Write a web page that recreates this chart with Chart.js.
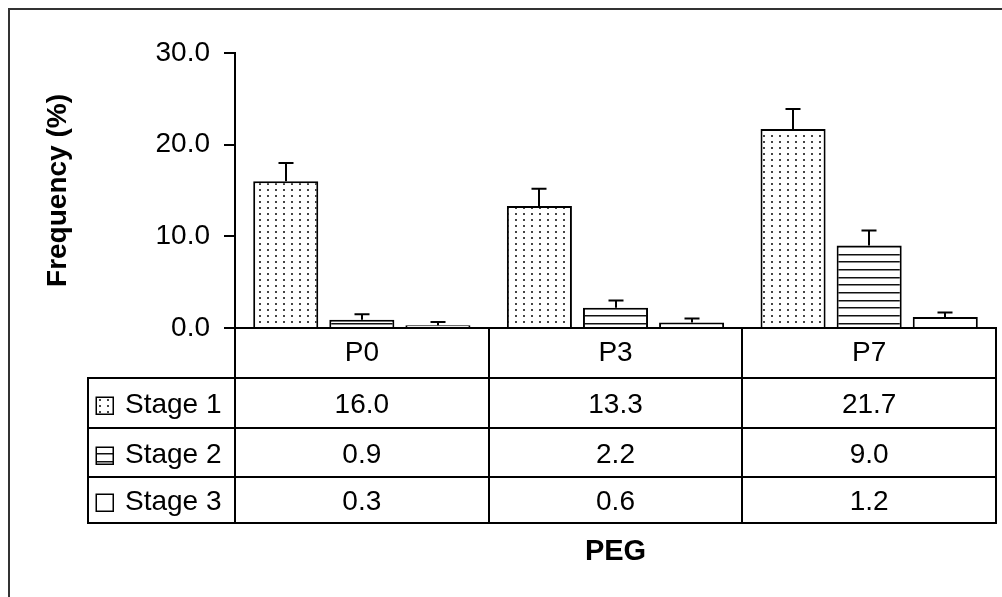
<!DOCTYPE html>
<html>
<head>
<meta charset="utf-8">
<script src="https://cdn.jsdelivr.net/npm/chart.js@4/dist/chart.umd.min.js"></script>
<style>
  html, body { margin: 0; padding: 0; background: #fff; }
  canvas { display: block; }
</style>
</head>
<body>
<canvas id="chart" width="1002" height="597"></canvas>
<script>
// Categories (PEG groups) and stage series
const categories = ['P0', 'P3', 'P7'];
const stageNames = ['Stage 1', 'Stage 2', 'Stage 3'];
const stage1 = [16.0, 13.3, 21.7];
const stage2 = [0.9, 2.2, 9.0];
const stage3 = [0.3, 0.6, 1.2];
// Upper error bar lengths
const stage1Err = [2.0, 1.9, 2.2];
const stage2Err = [0.6, 0.8, 1.65];
const stage3Err = [0.35, 0.45, 0.5];
// Value axis
const yMin = 0;
const yMax = 30;
const yStep = 10;

const FONT = "'Liberation Sans', Arial, sans-serif";

// Fill patterns
function dotPattern() {
  const c = document.createElement('canvas');
  c.width = 8; c.height = 6;
  const g = c.getContext('2d');
  g.fillStyle = '#fff';
  g.fillRect(0, 0, 8, 6);
  g.fillStyle = '#444';
  g.fillRect(3, 3, 2, 2);
  return g.createPattern(c, 'repeat');
}
function stripePattern() {
  const c = document.createElement('canvas');
  c.width = 4; c.height = 23;
  const g = c.getContext('2d');
  g.fillStyle = '#fff';
  g.fillRect(0, 0, 4, 23);
  [1, 8, 16].forEach(y => {
    g.fillStyle = '#111';
    g.fillRect(0, y, 4, 1);
    g.fillStyle = '#888';
    g.fillRect(0, y + 1, 4, 1);
  });
  return g.createPattern(c, 'repeat');
}

const fills = [dotPattern(), stripePattern(), '#ffffff'];
const seriesValues = [stage1, stage2, stage3];
const seriesErrors = [stage1Err, stage2Err, stage3Err];

// Page frame and white background
const framePlugin = {
  id: 'frame',
  beforeDraw(chart) {
    const ctx = chart.ctx;
    ctx.save();
    ctx.fillStyle = '#fff';
    ctx.fillRect(0, 0, chart.width, chart.height);
    ctx.strokeStyle = '#333';
    ctx.lineWidth = 2;
    ctx.beginPath();
    ctx.moveTo(9, chart.height);
    ctx.lineTo(9, 9);
    ctx.lineTo(chart.width, 9);
    ctx.stroke();
    ctx.restore();
  }
};

// Upper error bars on each bar
const errorBarPlugin = {
  id: 'errorBars',
  afterDatasetsDraw(chart) {
    const ctx = chart.ctx;
    const y = chart.scales.y;
    ctx.save();
    ctx.strokeStyle = '#000';
    ctx.lineWidth = 2;
    chart.data.datasets.forEach((ds, i) => {
      const meta = chart.getDatasetMeta(i);
      meta.data.forEach((bar, j) => {
        const top = y.getPixelForValue(ds.data[j] + seriesErrors[i][j]);
        const x = Math.round(bar.x);
        ctx.beginPath();
        ctx.moveTo(x, bar.y);
        ctx.lineTo(x, top);
        ctx.moveTo(x - 7.5, top);
        ctx.lineTo(x + 7.5, top);
        ctx.stroke();
      });
    });
    ctx.restore();
  }
};

// Data table under the category axis
const tablePlugin = {
  id: 'dataTable',
  afterDraw(chart) {
    const ctx = chart.ctx;
    const x = chart.scales.x;
    const area = chart.chartArea;
    const n = categories.length;
    const colW = (x.right - x.left) / n;
    const b = area.bottom;
    const rows = [b, b + 50, b + 100, b + 149, b + 195];
    const legendLeft = 88;

    ctx.save();
    ctx.strokeStyle = '#000';
    ctx.lineWidth = 2;
    ctx.beginPath();
    // vertical lines at category boundaries
    for (let i = 0; i <= n; i++) {
      const xx = Math.round(x.left + i * colW);
      ctx.moveTo(xx, rows[0]);
      ctx.lineTo(xx, rows[4]);
    }
    // legend column left edge
    ctx.moveTo(legendLeft, rows[1]);
    ctx.lineTo(legendLeft, rows[4]);
    // horizontal row lines
    for (let r = 1; r < rows.length; r++) {
      ctx.moveTo(legendLeft - 1, rows[r]);
      ctx.lineTo(Math.round(x.right) + 1, rows[r]);
    }
    ctx.stroke();

    ctx.fillStyle = '#000';
    ctx.font = '28px ' + FONT;
    ctx.textAlign = 'center';
    ctx.textBaseline = 'middle';
    categories.forEach((c, i) => {
      ctx.fillText(c, x.getPixelForValue(i), (rows[0] + rows[1]) / 2);
    });

    seriesValues.forEach((vals, s) => {
      const cy = (rows[s + 1] + rows[s + 2]) / 2 + 2.5;
      // legend key
      const kx = 96, ks = 17, ky = Math.round(cy - ks / 2);
      ctx.fillStyle = fills[s];
      ctx.fillRect(kx, ky, ks, ks);
      ctx.lineWidth = 1.5;
      ctx.strokeRect(kx + 0.25, ky + 0.25, ks, ks);
      ctx.fillStyle = '#000';
      ctx.textAlign = 'left';
      ctx.fillText(stageNames[s], 125, cy);
      ctx.textAlign = 'center';
      vals.forEach((v, i) => {
        ctx.fillText(v.toFixed(1), x.getPixelForValue(i), cy);
      });
    });
    ctx.restore();
  }
};

new Chart(document.getElementById('chart'), {
  type: 'bar',
  data: {
    labels: categories,
    datasets: seriesValues.map((vals, i) => ({
      label: stageNames[i],
      data: vals,
      backgroundColor: fills[i],
      borderColor: '#000',
      borderWidth: 2,
      categoryPercentage: 0.9,
      barPercentage: 0.855
    }))
  },
  options: {
    responsive: false,
    devicePixelRatio: 1,
    animation: false,
    layout: { padding: { left: 0, top: 53, right: 6, bottom: 0 } },
    plugins: { legend: { display: false }, tooltip: { enabled: false } },
    scales: {
      x: {
        type: 'category',
        offset: true,
        grid: { display: false },
        border: { display: true, color: '#000', width: 2 },
        ticks: { display: false },
        title: {
          display: true,
          text: 'PEG',
          color: '#000',
          font: { family: FONT, size: 29, weight: 'bold' },
          padding: { top: 0, bottom: 28 }
        },
        afterFit(scale) { scale.height = 269; }
      },
      y: {
        min: yMin,
        max: yMax,
        grid: {
          drawOnChartArea: false,
          drawTicks: true,
          tickLength: 11,
          color: '#000',
          lineWidth: 2
        },
        border: { display: true, color: '#000', width: 2 },
        ticks: {
          stepSize: yStep,
          padding: 14,
          color: '#000',
          font: { family: FONT, size: 28 },
          callback: v => Number(v).toFixed(1)
        },
        title: {
          display: true,
          text: 'Frequency (%)',
          color: '#000',
          font: { family: FONT, size: 28, weight: 'bold' },
          padding: { top: 41, bottom: 0 }
        },
        afterFit(scale) { scale.width = 235; }
      }
    }
  },
  plugins: [framePlugin, errorBarPlugin, tablePlugin]
});
</script>
</body>
</html>
